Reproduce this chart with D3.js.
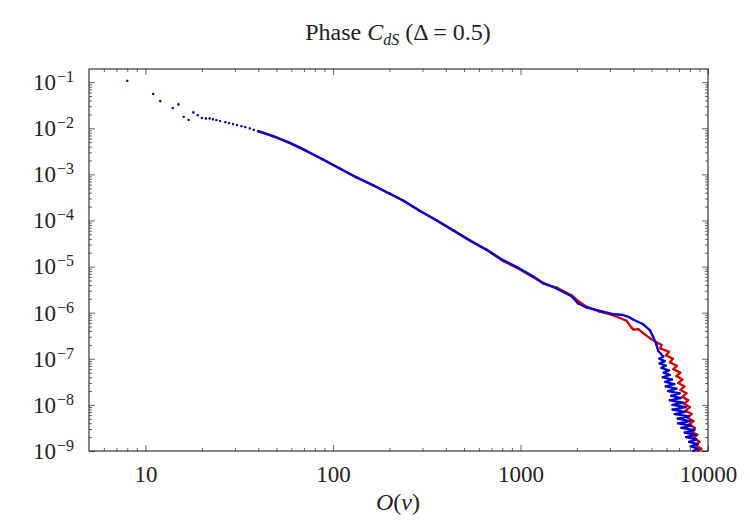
<!DOCTYPE html>
<html>
<head>
<meta charset="utf-8">
<script src="https://cdn.jsdelivr.net/npm/d3@7"></script>
<style>
body { margin: 0; background: #fff; }
text { font-family: "Liberation Serif", "DejaVu Serif", serif; fill: #222; }
</style>
</head>
<body>
<svg id="chart" width="750" height="525"></svg>
<script>
// tick values
const xMajor = [10, 100, 1000, 10000];
const yMajor = [1e-9, 1e-8, 1e-7, 1e-6, 1e-5, 1e-4, 1e-3, 1e-2, 1e-1];

// first log bins, same in both runs
const headO = [8, 11, 12, 14, 15, 16, 17, 18, 19, 20, 21, 22, 22.9, 23.9, 25,
  26.7, 27.9, 29.3, 30.8, 32.5, 34.1, 36, 37.8, 39.9];
const headV = [0.107, 0.0557, 0.0387, 0.0273, 0.0328, 0.0177, 0.0152, 0.022, 0.0192, 0.0167,
  0.0163, 0.0163, 0.0157, 0.015, 0.0143, 0.01355, 0.0129, 0.01228, 0.01167, 0.0111,
  0.01057, 0.0099, 0.00923, 0.00865];

const blueO = [47.9, 58.8, 72.2, 88.5, 108.7, 133.5, 163.7, 200.9, 236.6, 290, 356, 440,
  537, 660, 808, 952, 1167, 1320, 1556, 1871, 2029, 2249, 2648, 3118, 3524, 3800, 3986,
  4508, 4894, 5096, 5314, 5420,
  5776, 5506, 5883, 5526, 5949, 5643, 6178, 5805, 6249, 5740, 6427, 5919, 6603, 5956,
  6776, 6127, 7065, 6357, 7135, 6256, 7357, 6467, 7586, 6475, 7558, 6652, 7909, 6900,
  7998, 6919, 8127, 7214, 8453, 7512, 8557, 7644, 8684, 7929, 8813, 8097, 8846, 8349];
const blueV = [6.75e-3, 4.82e-3, 3.23e-3, 2.1e-3, 1.34e-3, 8.6e-4, 5.8e-4, 3.8e-4, 2.7e-4,
  1.62e-4, 1.01e-4, 6.07e-5, 3.74e-5, 2.33e-5, 1.38e-5, 9.9e-6, 6.2e-6, 4.43e-6, 3.35e-6,
  2.28e-6, 1.58e-6, 1.3e-6, 1.09e-6, 9.3e-7, 8.9e-7, 8.0e-7, 7.1e-7, 5.6e-7, 4.2e-7,
  3.0e-7, 2.0e-7, 1.5e-7,
  1.12e-7, 1.0e-7, 8.91e-8, 7.94e-8, 7.08e-8, 6.31e-8, 5.62e-8, 5.01e-8, 4.47e-8, 3.98e-8,
  3.55e-8, 3.16e-8, 2.82e-8, 2.51e-8, 2.24e-8, 2.0e-8, 1.78e-8, 1.58e-8, 1.41e-8, 1.26e-8,
  1.12e-8, 1.0e-8, 8.91e-9, 7.94e-9, 7.08e-9, 6.31e-9, 5.62e-9, 5.01e-9, 4.47e-9, 3.98e-9,
  3.55e-9, 3.16e-9, 2.82e-9, 2.51e-9, 2.24e-9, 2.0e-9, 1.78e-9, 1.58e-9, 1.41e-9, 1.26e-9,
  1.12e-9, 1.0e-9];

// red run
const redO = [47.9, 58.8, 72.2, 88.5, 108.7, 133.5, 163.7, 200.9, 236.6, 290, 356, 440,
  537, 660, 808, 952, 1167, 1320, 1556, 1871, 2029, 2249, 2648, 3118, 3676, 3900, 4000,
  4250, 4508, 4894,
  5649, 5574, 6195, 5970, 6499, 6264, 6809, 6547, 7108, 6784, 7302, 6953, 7493, 7134,
  7670, 7294, 7841, 7457, 8007, 7605, 8176, 7774, 8359, 7939, 8525, 8116, 8759, 8349,
  9009, 8589, 9211, 8845];
const redV = [6.75e-3, 4.82e-3, 3.23e-3, 2.1e-3, 1.34e-3, 8.6e-4, 5.8e-4, 3.8e-4, 2.7e-4,
  1.62e-4, 1.01e-4, 6.0e-5, 3.65e-5, 2.28e-5, 1.32e-5, 9.5e-6, 5.9e-6, 4.3e-6, 3.5e-6,
  2.4e-6, 1.8e-6, 1.35e-6, 1.05e-6, 8.8e-7, 6.7e-7, 4.8e-7, 4.3e-7, 4.4e-7, 3.6e-7, 2.8e-7,
  2.0e-7, 1.68e-7, 1.41e-7, 1.19e-7, 1.0e-7, 8.41e-8, 7.08e-8, 5.96e-8, 5.01e-8, 4.22e-8,
  3.55e-8, 2.99e-8, 2.51e-8, 2.11e-8, 1.78e-8, 1.5e-8, 1.26e-8, 1.06e-8, 8.91e-9, 7.5e-9,
  6.31e-9, 5.31e-9, 4.47e-9, 3.76e-9, 3.16e-9, 2.66e-9, 2.24e-9, 1.88e-9, 1.585e-9, 1.33e-9,
  1.12e-9, 1.0e-9];

const head = headO.map((o, i) => ({o: o, v: headV[i]}));
const blue = head.concat(blueO.map((o, i) => ({o: o, v: blueV[i]})));
const red = head.concat(redO.map((o, i) => ({o: o, v: redV[i]})));

const svg = d3.select('#chart');
const L = 89, R = 708, T = 69, B = 451;

const x = d3.scaleLog().domain([5, 10000]).range([L, R]);
const y = d3.scaleLog().domain([1e-9, 0.193]).range([B, T]);

const isMajor = v => Math.abs(Math.log10(v) - Math.round(Math.log10(v))) < 1e-9;
const xMinor = x.ticks().filter(v => !isMajor(v) && v > 5);
const yMinor = y.ticks().filter(v => !isMajor(v));

function tidy(g) {
  g.select('.domain').remove();
  g.selectAll('.tick line').attr('stroke', '#555').attr('stroke-width', 0.9);
  g.attr('font-size', 23).attr('font-family', null);
}

// bottom / top
svg.append('g').attr('transform', `translate(0,${B})`)
  .call(d3.axisBottom(x).tickValues(xMajor).tickSize(-6).tickPadding(15).tickFormat(d3.format('d')))
  .call(tidy);
svg.append('g').attr('transform', `translate(0,${B})`)
  .call(d3.axisBottom(x).tickValues(xMinor).tickSize(-3).tickFormat(''))
  .call(tidy);
svg.append('g').attr('transform', `translate(0,${T})`)
  .call(d3.axisTop(x).tickValues(xMajor).tickSize(-6).tickFormat(''))
  .call(tidy);
svg.append('g').attr('transform', `translate(0,${T})`)
  .call(d3.axisTop(x).tickValues(xMinor).tickSize(-3).tickFormat(''))
  .call(tidy);

// left / right
const gy = svg.append('g').attr('transform', `translate(${L},0)`)
  .call(d3.axisLeft(y).tickValues(yMajor).tickSize(-6).tickPadding(15))
  .call(tidy);
gy.selectAll('.tick text').each(function(d) {
  const t = d3.select(this).text(null);
  t.append('tspan').text('10');
  t.append('tspan').attr('dy', '-8').attr('dx', '1').attr('font-size', 16)
    .text('\u2212' + (-Math.round(Math.log10(d))));
});
svg.append('g').attr('transform', `translate(${L},0)`)
  .call(d3.axisLeft(y).tickValues(yMinor).tickSize(-3).tickFormat(''))
  .call(tidy);
svg.append('g').attr('transform', `translate(${R},0)`)
  .call(d3.axisRight(y).tickValues(yMajor).tickSize(-6).tickFormat(''))
  .call(tidy);
svg.append('g').attr('transform', `translate(${R},0)`)
  .call(d3.axisRight(y).tickValues(yMinor).tickSize(-3).tickFormat(''))
  .call(tidy);

// frame
svg.append('rect').attr('x', L).attr('y', T).attr('width', R - L).attr('height', B - T)
  .attr('fill', 'none').attr('stroke', '#222').attr('stroke-width', 1.1);

const plot = svg.append('g');
const line = d3.line().x(d => x(d.o)).y(d => y(d.v));

function drawRun(data, colour) {
  plot.append('path')
    .datum(data.filter(d => d.o >= 39.9))
    .attr('d', line)
    .attr('fill', 'none')
    .attr('stroke', colour)
    .attr('stroke-width', 2.3)
    .attr('stroke-linejoin', 'round');
  plot.selectAll(null)
    .data(data)
    .enter()
    .append('circle')
    .attr('cx', d => x(d.o))
    .attr('cy', d => y(d.v))
    .attr('r', 1.15)
    .attr('fill', colour);
}
drawRun(red, '#d40000');
drawRun(blue, '#0000d0');

// title
const title = svg.append('text').attr('x', 398).attr('y', 40)
  .attr('text-anchor', 'middle').attr('font-size', 24);
title.append('tspan').text('Phase ');
title.append('tspan').attr('font-style', 'italic').text('C');
title.append('tspan').attr('font-style', 'italic').attr('font-size', 16).attr('dy', 5).text('dS');
title.append('tspan').attr('dy', -5).text(' (\u0394 = 0.5)');

// x label
const xl = svg.append('text').attr('x', 398).attr('y', 510)
  .attr('text-anchor', 'middle').attr('font-size', 24);
xl.append('tspan').attr('font-style', 'italic').text('O');
xl.append('tspan').text('(');
xl.append('tspan').attr('font-style', 'italic').text('v');
xl.append('tspan').text(')');
</script>
</body>
</html>
